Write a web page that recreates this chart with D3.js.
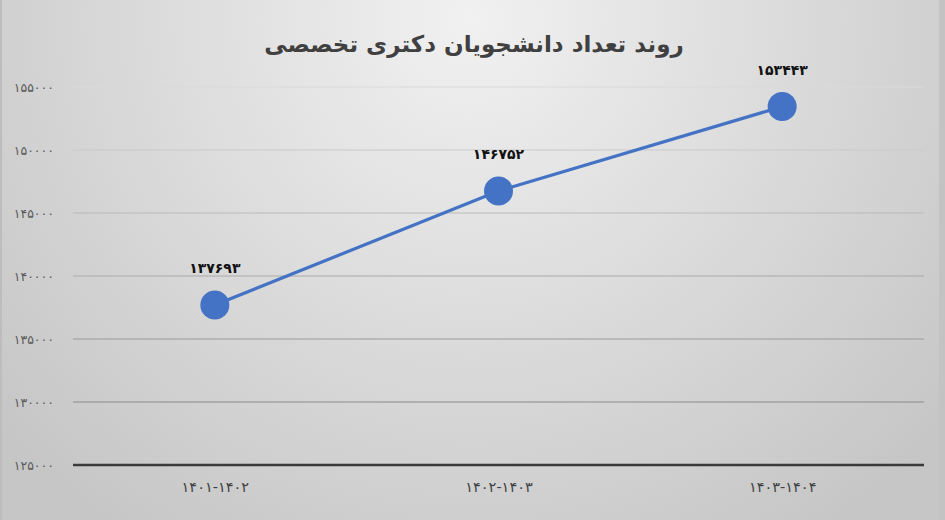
<!DOCTYPE html>
<html><head><meta charset="utf-8">
<script src="https://cdn.jsdelivr.net/npm/d3@7"></script>
<style>html,body{margin:0;padding:0;overflow:hidden;background:#fff}</style>
</head><body>
<script>
const title = "روند تعداد دانشجویان دکتری تخصصی";
const categories = ["۱۴۰۱-۱۴۰۲", "۱۴۰۲-۱۴۰۳", "۱۴۰۳-۱۴۰۴"];
const values = [137693, 146752, 153443];
const yTicks = [125000, 130000, 135000, 140000, 145000, 150000, 155000];

(function () {
const W = 945, H = 520;
const fa = s => String(s).replace(/[0-9]/g, d => "۰۱۲۳۴۵۶۷۸۹"[+d]);

const svg = d3.select("body").append("svg").attr("width", W).attr("height", H);
const defs = svg.append("defs");
const bg = defs.append("radialGradient").attr("id", "bg")
  .attr("gradientUnits", "userSpaceOnUse").attr("cx", 470).attr("cy", 20).attr("r", 620);
bg.append("stop").attr("offset", 0).attr("stop-color", "#f1f1f1");
bg.append("stop").attr("offset", 1).attr("stop-color", "#c6c6c6");
const gg = defs.append("linearGradient").attr("id", "grid")
  .attr("gradientUnits", "userSpaceOnUse").attr("x1", 0).attr("x2", 0).attr("y1", 85).attr("y2", 405);
gg.append("stop").attr("offset", 0).attr("stop-color", "#dadada");
gg.append("stop").attr("offset", 1).attr("stop-color", "#8a8a8a");

svg.append("rect").attr("width", W).attr("height", H).attr("fill", "url(#bg)");
svg.append("rect").attr("x", 0).attr("y", 0).attr("width", 2).attr("height", H).attr("fill", "#bdbdbd");
svg.append("rect").attr("x", 939).attr("y", 0).attr("width", 6).attr("height", H).attr("fill", "#c3c3c3");

const mLeft = 73, mRight = 924, mTop = 87, mBottom = 465;
const x = d3.scalePoint().domain(categories).range([mLeft, mRight]).padding(0.5);
const y = d3.scaleLinear().domain([125000, 155000]).range([mBottom, mTop]);

svg.append("g").selectAll("line").data(yTicks.filter(t => t !== 125000)).join("line")
  .attr("x1", mLeft).attr("x2", mRight)
  .attr("y1", d => y(d)).attr("y2", d => y(d))
  .attr("stroke", "url(#grid)").attr("stroke-width", 1.2);

const yAxis = d3.axisLeft(y).tickValues(yTicks).tickSize(0).tickFormat(d => fa(d));
const ya = svg.append("g").attr("transform", `translate(${mLeft - 16},0)`).call(yAxis);
ya.select(".domain").remove();
ya.selectAll("text").attr("font-family", "DejaVu Sans").attr("font-size", 12.5)
  .attr("letter-spacing", 2.2).attr("fill", "#595959");

const xAxis = d3.axisBottom(x).tickSize(0).tickPadding(17);
const xa = svg.append("g").attr("transform", `translate(0,${mBottom})`).call(xAxis);
xa.select(".domain").remove();
xa.selectAll("text").attr("font-family", "DejaVu Sans").attr("font-size", 14.5)
  .attr("letter-spacing", 2.6).attr("fill", "#404040").attr("direction", "ltr");
svg.append("line").attr("x1", mLeft).attr("x2", mRight).attr("y1", mBottom).attr("y2", mBottom)
  .attr("stroke", "#3a3a3a").attr("stroke-width", 2.5);

const data = categories.map((c, i) => ({c, v: values[i]}));
svg.append("path").datum(data)
  .attr("d", d3.line().x(d => x(d.c)).y(d => y(d.v)))
  .attr("fill", "none").attr("stroke", "#4472C4").attr("stroke-width", 3.2);
svg.append("g").selectAll("circle").data(data).join("circle")
  .attr("cx", d => x(d.c)).attr("cy", d => y(d.v)).attr("r", 14.5)
  .attr("fill", "#4472C4");

svg.append("g").selectAll("text").data(data).join("text")
  .attr("x", d => x(d.c)).attr("y", d => y(d.v) - 32)
  .attr("text-anchor", "middle").attr("font-family", "DejaVu Sans").attr("font-weight", "bold")
  .attr("font-size", 14).attr("fill", "#111").text(d => fa(d.v));

svg.append("text").attr("x", 474).attr("y", 52).attr("text-anchor", "middle")
  .attr("font-family", "DejaVu Sans").attr("font-weight", "bold").attr("font-size", 23)
  .attr("fill", "#404040").attr("direction", "rtl").text(title);
})();
</script>
</body></html>
